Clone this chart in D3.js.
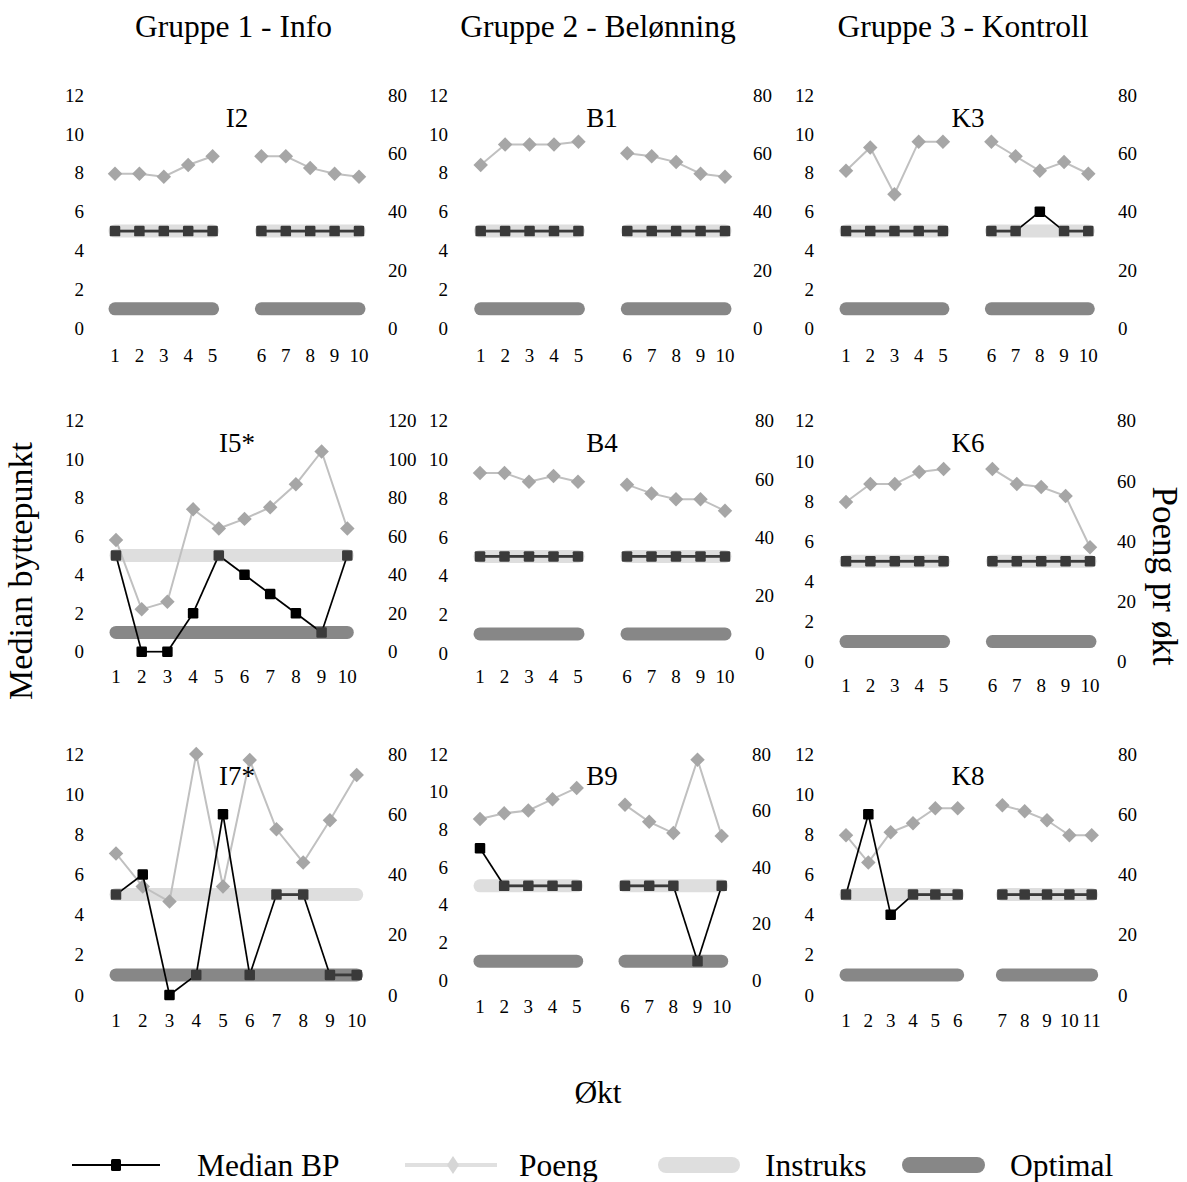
<!DOCTYPE html>
<html>
<head>
<meta charset="utf-8">
<script src="https://cdn.jsdelivr.net/npm/d3@7"></script>
<style>
  html, body { margin: 0; padding: 0; background: #fff; }
  svg text { font-family: "Liberation Serif", "Times New Roman", serif; fill: #000; }
</style>
</head>
<body>
<svg id="chart" width="1187" height="1182"></svg>
<script>
// ---------------- DATA ----------------
const groupTitles = ["Gruppe 1 - Info", "Gruppe 2 - Belønning", "Gruppe 3 - Kontroll"];
const panelNames = ["I2", "B1", "K3", "I5*", "B4", "K6", "I7*", "B9", "K8"];

// session categories ("|" marks the break between the two phases)
const sessions10Split = ["1","2","3","4","5","|","6","7","8","9","10"];
const sessions10 = ["1","2","3","4","5","6","7","8","9","10"];
const sessions11Split = ["1","2","3","4","5","6","|","7","8","9","10","11"];

const leftTicks = [0, 2, 4, 6, 8, 10, 12];
const rightTicks80 = [0, 20, 40, 60, 80];
const rightTicks120 = [0, 20, 40, 60, 80, 100, 120];

const instruksLevel = 5;
const optimalLevel = 1;

// Median byttepunkt (left axis) and Poeng (right axis) per session
const I2_median = [5,5,5,5,5,5,5,5,5,5];
const I2_poeng  = [53,53,52,56,59,59,59,55,53,52];
const B1_median = [5,5,5,5,5,5,5,5,5,5];
const B1_poeng  = [56,63,63,63,64,60,59,57,53,52];
const K3_median = [5,5,5,5,5,5,5,6,5,5];
const K3_poeng  = [54,62,46,64,64,64,59,54,57,53];
const I5_median = [5,0,0,2,5,4,3,2,1,5];
const I5_poeng  = [58,22,26,74,64,69,75,87,104,64];
const B4_median = [5,5,5,5,5,5,5,5,5,5];
const B4_poeng  = [62,62,59,61,59,58,55,53,53,49];
const K6_median = [5,5,5,5,5,5,5,5,5,5];
const K6_poeng  = [53,59,59,63,64,64,59,58,55,38];
const I7_median = [5,6,0,1,9,1,5,5,1,1];
const I7_poeng  = [47,36,31,80,36,78,55,44,58,73];
const B9_median = [7,5,5,5,5,5,5,5,1,5];
const B9_poeng  = [57,59,60,64,68,62,56,52,78,51];
const K8_median = [5,9,4,5,5,5,5,5,5,5,5];
const K8_poeng  = [53,44,54,57,62,62,63,61,58,53,53];

const legendLabels = ["Median BP", "Poeng", "Instruks", "Optimal"];

// ---------------- LAYOUT ----------------
const FONT = '"Liberation Serif", "Times New Roman", serif';
const colCenters = [237, 602, 968];
const headerCenters = [233.5, 598, 963];
const panels = [
  {name: panelNames[0], col:0, sessions: sessions10Split, median: I2_median, poeng: I2_poeng, rmax: 80, rticks: rightTicks80,
   x0:115, x1:359, yTop:95, yBot:328.3, leftX:84, rightX:388, xLabY:355, titleY:127},
  {name: panelNames[1], col:1, sessions: sessions10Split, median: B1_median, poeng: B1_poeng, rmax: 80, rticks: rightTicks80,
   x0:480.7, x1:725, yTop:95, yBot:328.3, leftX:448, rightX:753, xLabY:355, titleY:127},
  {name: panelNames[2], col:2, sessions: sessions10Split, median: K3_median, poeng: K3_poeng, rmax: 80, rticks: rightTicks80,
   x0:846, x1:1088.3, yTop:95, yBot:328.3, leftX:814, rightX:1118, xLabY:355, titleY:127},
  {name: panelNames[3], col:0, sessions: sessions10, median: I5_median, poeng: I5_poeng, rmax: 120, rticks: rightTicks120,
   x0:116, x1:347.3, yTop:420.7, yBot:651.7, leftX:84, rightX:388, xLabY:676.7, titleY:452},
  {name: panelNames[4], col:1, sessions: sessions10Split, median: B4_median, poeng: B4_poeng, rmax: 80, rticks: rightTicks80,
   x0:480, x1:725, yTop:420.7, yBot:653.3, leftX:448, rightX:755, xLabY:676.7, titleY:452},
  {name: panelNames[5], col:2, sessions: sessions10Split, median: K6_median, poeng: K6_poeng, rmax: 80, rticks: rightTicks80,
   x0:846, x1:1090, yTop:420.7, yBot:661.7, leftX:814, rightX:1117, xLabY:685, titleY:452},
  {name: panelNames[6], col:0, sessions: sessions10, median: I7_median, poeng: I7_poeng, rmax: 80, rticks: rightTicks80,
   x0:116, x1:356.7, yTop:754, yBot:995, leftX:84, rightX:388, xLabY:1020, titleY:785},
  {name: panelNames[7], col:1, sessions: sessions10Split, median: B9_median, poeng: B9_poeng, rmax: 80, rticks: rightTicks80,
   x0:480, x1:721.7, yTop:754, yBot:980, leftX:448, rightX:752, xLabY:1006, titleY:785},
  {name: panelNames[8], col:2, sessions: sessions11Split, median: K8_median, poeng: K8_poeng, rmax: 80, rticks: rightTicks80,
   x0:846, x1:1091.7, yTop:754, yBot:995, leftX:814, rightX:1118, xLabY:1020, titleY:785}
];

const C = {
  instruks: "#dedede", optimal: "#878787",
  poengLine: "#c0c0c0", poengMarker: "#a6a6a6",
  medianOn: "#3a3a3a", medianOff: "#000000"
};
const bigFont = 31.5;
const tickFont = 19;

const svg = d3.select("#chart");

panels.forEach(p => {
  const g = svg.append("g");
  const x = d3.scalePoint().domain(p.sessions).range([p.x0, p.x1]).padding(0);
  const yL = d3.scaleLinear().domain([0, 12]).range([p.yBot, p.yTop]);
  const yR = d3.scaleLinear().domain([0, p.rmax]).range([p.yBot, p.yTop]);

  let k = 0;
  const pts = p.sessions.map(s => {
    if (s === "|") return {s, gap: true};
    const o = {s, gap: false, m: p.median[k], v: p.poeng[k]};
    k++;
    return o;
  });
  const segments = [];
  let cur = [];
  pts.forEach(d => {
    if (d.gap) { if (cur.length) segments.push(cur); cur = []; }
    else cur.push(d);
  });
  if (cur.length) segments.push(cur);

  // reference bars
  [[instruksLevel, C.instruks], [optimalLevel, C.optimal]].forEach(([lvl, col]) => {
    g.selectAll(null).data(segments).enter().append("line")
      .attr("x1", s => x(s[0].s)).attr("x2", s => x(s[s.length - 1].s))
      .attr("y1", yL(lvl)).attr("y2", yL(lvl))
      .attr("stroke", col).attr("stroke-width", 13).attr("stroke-linecap", "round");
  });

  // poeng line + diamonds
  const lineR = d3.line().defined(d => !d.gap).x(d => x(d.s)).y(d => yR(d.v));
  g.append("path").attr("d", lineR(pts)).attr("fill", "none")
    .attr("stroke", C.poengLine).attr("stroke-width", 2);
  const diamond = d3.symbol(d3.symbolSquare, 105);
  g.selectAll(null).data(pts.filter(d => !d.gap)).enter().append("path")
    .attr("d", diamond)
    .attr("transform", d => `translate(${x(d.s)},${yR(d.v)}) rotate(45)`)
    .attr("fill", C.poengMarker);

  // median line segments
  const onLevel = v => v === instruksLevel || v === optimalLevel;
  segments.forEach(seg => {
    for (let i = 0; i < seg.length - 1; i++) {
      const a = seg[i], b = seg[i + 1];
      const steady = a.m === b.m && onLevel(a.m);
      g.append("line")
        .attr("x1", x(a.s)).attr("y1", yL(a.m))
        .attr("x2", x(b.s)).attr("y2", yL(b.m))
        .attr("stroke", steady ? C.medianOn : C.medianOff)
        .attr("stroke-width", steady ? 2.8 : 1.7);
    }
  });
  const sq = 10.5;
  g.selectAll(null).data(pts.filter(d => !d.gap)).enter().append("rect")
    .attr("x", d => x(d.s) - sq / 2).attr("y", d => yL(d.m) - sq / 2)
    .attr("width", sq).attr("height", sq).attr("rx", 1.2)
    .attr("fill", d => onLevel(d.m) ? C.medianOn : C.medianOff);

  // tick labels
  g.selectAll(null).data(leftTicks).enter().append("text")
    .attr("x", p.leftX).attr("y", t => yL(t)).attr("dy", "0.35em")
    .attr("font-family", FONT).attr("text-anchor", "end").attr("font-size", tickFont).text(t => t);
  g.selectAll(null).data(p.rticks).enter().append("text")
    .attr("x", p.rightX).attr("y", t => yR(t)).attr("dy", "0.35em")
    .attr("font-family", FONT).attr("text-anchor", "start").attr("font-size", tickFont).text(t => t);
  g.selectAll(null).data(pts.filter(d => !d.gap)).enter().append("text")
    .attr("x", d => x(d.s)).attr("y", p.xLabY).attr("dy", "0.35em")
    .attr("font-family", FONT).attr("text-anchor", "middle").attr("font-size", tickFont).text(d => d.s);
});

// panel titles on top
svg.append("g").selectAll(null).data(panels).enter().append("text")
  .attr("x", p => colCenters[p.col]).attr("y", p => p.titleY)
  .attr("font-family", FONT).attr("text-anchor", "middle").attr("font-size", 27).text(p => p.name);

// group headers
svg.append("g").selectAll(null).data(groupTitles).enter().append("text")
  .attr("x", (d, i) => headerCenters[i]).attr("y", 37)
  .attr("font-family", FONT).attr("text-anchor", "middle").attr("font-size", bigFont).text(d => d);

// axis titles
svg.append("text").attr("transform", "translate(32,571) rotate(-90)")
  .attr("font-family", FONT).attr("text-anchor", "middle").attr("font-size", 34).text("Median byttepunkt");
svg.append("text").attr("transform", "translate(1153,576) rotate(90)")
  .attr("font-family", FONT).attr("text-anchor", "middle").attr("font-size", 35).text("Poeng pr økt");
svg.append("text").attr("x", 598).attr("y", 1103)
  .attr("font-family", FONT).attr("text-anchor", "middle").attr("font-size", bigFont).text("Økt");

// legend
const lg = svg.append("g");
const ly = 1165, lty = 1176;
lg.append("line").attr("x1", 72).attr("x2", 160).attr("y1", ly).attr("y2", ly)
  .attr("stroke", "#000").attr("stroke-width", 2);
lg.append("rect").attr("x", 111).attr("y", ly - 6).attr("width", 10).attr("height", 12)
  .attr("rx", 1.5).attr("fill", "#000");
lg.append("text").attr("x", 197).attr("y", lty).attr("font-family", FONT).attr("font-size", bigFont).text(legendLabels[0]);

lg.append("line").attr("x1", 405).attr("x2", 497).attr("y1", ly).attr("y2", ly)
  .attr("stroke", "#e0e0e0").attr("stroke-width", 4);
lg.append("path").attr("d", `M453,${ly - 9} L459,${ly} L453,${ly + 9} L447,${ly} Z`).attr("fill", "#d6d6d6");
lg.append("text").attr("x", 519).attr("y", lty).attr("font-family", FONT).attr("font-size", bigFont).text(legendLabels[1]);

lg.append("rect").attr("x", 658).attr("y", ly - 8).attr("width", 82).attr("height", 16)
  .attr("rx", 8).attr("fill", C.instruks);
lg.append("text").attr("x", 765).attr("y", lty).attr("font-family", FONT).attr("font-size", bigFont).text(legendLabels[2]);

lg.append("rect").attr("x", 902).attr("y", ly - 8).attr("width", 83).attr("height", 16)
  .attr("rx", 8).attr("fill", C.optimal);
lg.append("text").attr("x", 1010).attr("y", lty).attr("font-family", FONT).attr("font-size", bigFont).text(legendLabels[3]);
</script>
</body>
</html>
